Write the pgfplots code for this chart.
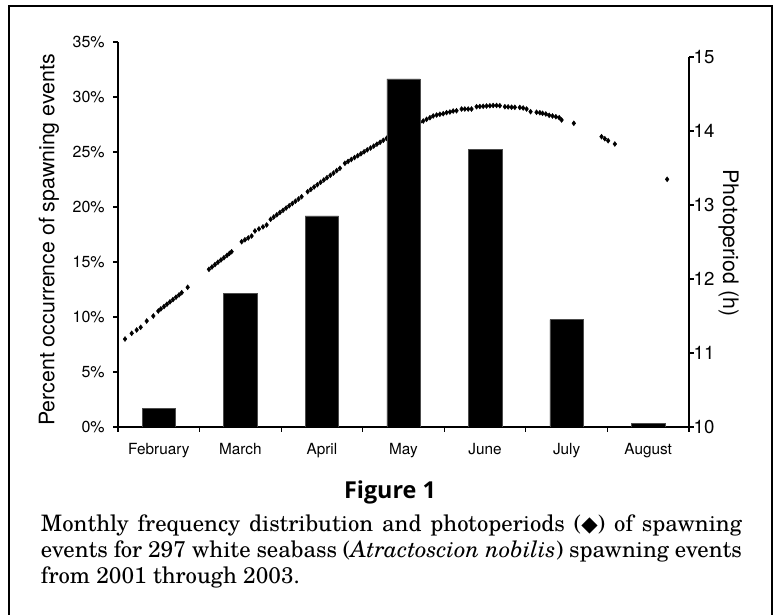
\documentclass[border=0pt]{standalone}
\usepackage{pgfplots}
\pgfplotsset{compat=1.18}
\usepackage{fontspec}
\setmainfont{TeX Gyre Heros}
\newfontfamily\capfont{TeX Gyre Schola}
\newfontfamily\figfont{Open Sans}
\newfontfamily\symfont{DejaVu Sans}
\begin{document}
\begin{tikzpicture}[x=0.75pt,y=0.75pt]
\useasboundingbox (0,0) rectangle (776,615);
% photoperiod (drawn first so bars cover it)
\begin{axis}[
  at={(88.5pt,141pt)}, anchor=south west,
  scale only axis, width=428.25pt, height=277.5pt,
  xmin=0, xmax=7, ymin=10, ymax=15,
  axis x line=none, axis y line*=right,
  ytick={10,11,12,13,14,15},
  tick align=outside, major tick length=3.5pt,
  every tick/.style={black, line width=0.8pt},
  axis line style={line width=1.4pt},
  /pgf/number format/assume math mode=true,
  yticklabel style={font=\fontsize{14}{15}\selectfont, xshift=-3.5pt},
]
\addplot[only marks, mark=diamond*, mark size=1.8pt, black] table {
x y
0.086 11.189
0.168 11.266
0.229 11.311
0.278 11.347
0.352 11.432
0.433 11.500
0.494 11.568
0.525 11.596
0.564 11.628
0.600 11.659
0.637 11.691
0.674 11.722
0.711 11.754
0.748 11.785
0.781 11.815
0.854 11.888
1.115 12.131
1.152 12.162
1.189 12.195
1.225 12.226
1.262 12.257
1.299 12.288
1.336 12.319
1.366 12.346
1.393 12.369
1.516 12.504
1.556 12.530
1.597 12.555
1.638 12.581
1.679 12.649
1.728 12.677
1.777 12.704
1.822 12.730
1.871 12.807
1.909 12.838
1.947 12.868
1.985 12.899
2.023 12.928
2.061 12.959
2.099 12.990
2.137 13.020
2.175 13.051
2.213 13.081
2.251 13.112
2.325 13.180
2.364 13.211
2.404 13.243
2.444 13.274
2.484 13.307
2.523 13.338
2.562 13.369
2.603 13.401
2.642 13.432
2.681 13.465
2.721 13.496
2.782 13.564
2.821 13.589
2.860 13.615
2.900 13.641
2.939 13.666
2.978 13.693
3.017 13.719
3.056 13.745
3.096 13.770
3.135 13.796
3.174 13.822
3.213 13.847
3.252 13.874
3.293 13.901
3.701 14.118
3.742 14.135
3.783 14.158
3.824 14.180
3.864 14.203
3.906 14.216
3.946 14.226
3.987 14.234
4.028 14.248
4.069 14.257
4.109 14.270
4.150 14.274
4.212 14.297
4.252 14.297
4.293 14.297
4.334 14.297
4.396 14.328
4.436 14.331
4.477 14.334
4.518 14.338
4.559 14.341
4.599 14.345
4.641 14.345
4.681 14.342
4.743 14.328
4.783 14.326
4.825 14.322
4.865 14.320
4.926 14.318
4.967 14.311
5.009 14.297
5.058 14.261
5.131 14.253
5.172 14.247
5.205 14.239
5.245 14.230
5.286 14.212
5.327 14.203
5.368 14.193
5.409 14.180
5.438 14.149
5.588 14.104
5.928 13.923
5.968 13.896
6.009 13.869
6.091 13.824
6.732 13.347
};
\end{axis}
% bars
\begin{axis}[
  at={(88.5pt,141pt)}, anchor=south west,
  scale only axis, width=428.25pt, height=288.75pt,
  xmin=0, xmax=7, ymin=0, ymax=35,
  axis x line*=bottom, axis y line*=left,
  ytick={0,5,10,15,20,25,30,35},
  yticklabel={\pgfmathprintnumber{\tick}\%},
  xtick={0,1,2,3,4,5,6,7}, xticklabels={},
  extra x ticks={0.5,1.5,2.5,3.5,4.5,5.5,6.5},
  extra x tick labels={February,March,April,May,June,July,August},
  extra x tick style={major tick length=0pt, xticklabel style={yshift=-9pt}},
  tick align=outside, major tick length=3.5pt,
  every tick/.style={black, line width=0.8pt},
  axis line style={line width=1.4pt},
  /pgf/number format/assume math mode=true,
  yticklabel style={font=\fontsize{12}{13}\selectfont, xshift=-3pt},
  xticklabel style={font=\fontsize{11.5}{13}\selectfont},
  ybar, bar width=0.41,
]
\addplot[fill=black, draw=black!70, line width=0.3pt] coordinates {
(0.5,1.68) (1.5,12.12) (2.5,19.19) (3.5,31.65) (4.5,25.25) (5.5,9.76) (6.5,0.34)};
\end{axis}
% axis titles
\node[rotate=90, font=\fontsize{16}{18}\selectfont] at (49,375) {Percent occurrence of spawning events};
\node[rotate=-90, font=\fontsize{16}{18}\selectfont] at (728.5,372) {Photoperiod (h)};
% frame
\draw[line width=1.5pt] (9,0) -- (9,609) -- (772,609) -- (772,0);
% caption
\node[anchor=base, inner sep=0, font=\figfont\bfseries\fontsize{17.5}{20}\selectfont] at (390,116) {Figure 1};
\node[anchor=base west, inner sep=0, font=\capfont\fontsize{17}{20}\selectfont] at (40.7,83.3)
  {\makebox[525.75pt][s]{Monthly frequency distribution and photoperiods ({\symfont\fontsize{16}{18}\selectfont ◆}) of spawning}};
\node[anchor=base west, inner sep=0, font=\capfont\fontsize{17}{20}\selectfont] at (40.7,57.3)
  {\makebox[525.75pt][s]{events for 297 white seabass (\textit{Atractoscion nobilis}) spawning events}};
\node[anchor=base west, inner sep=0, font=\capfont\fontsize{17}{20}\selectfont] at (40.7,31.3)
  {from 2001 through 2003.};
\end{tikzpicture}
\end{document}
